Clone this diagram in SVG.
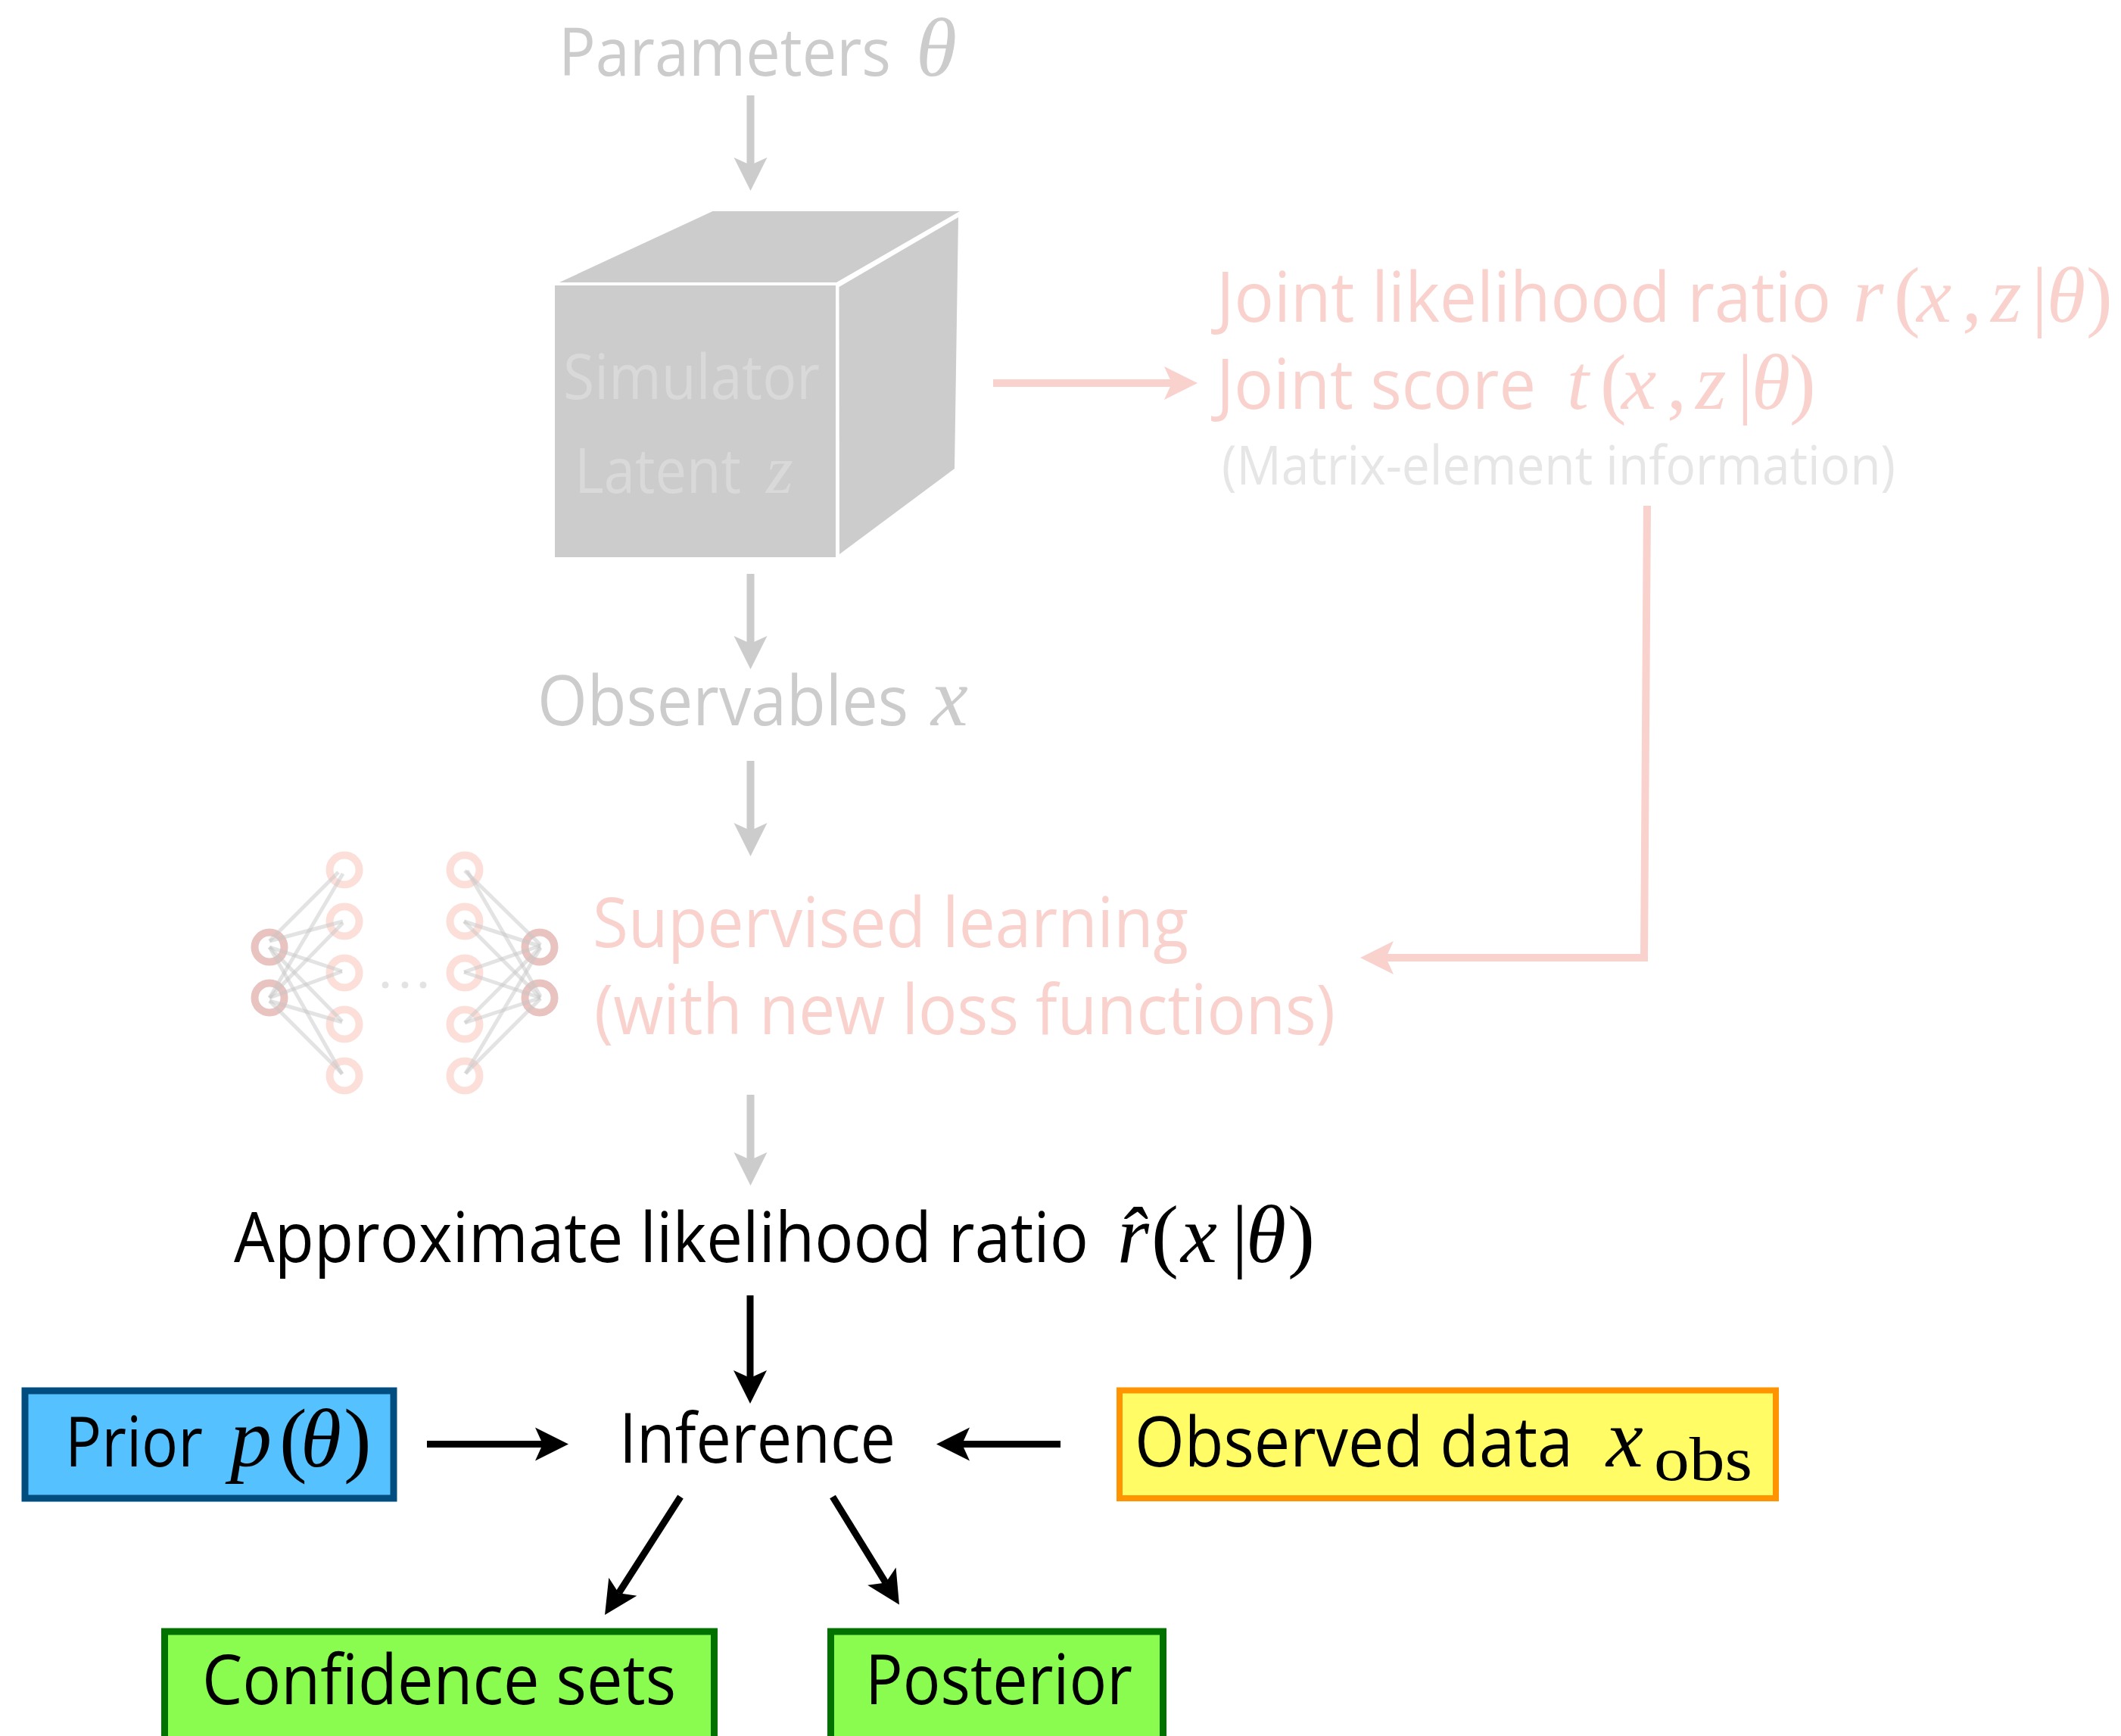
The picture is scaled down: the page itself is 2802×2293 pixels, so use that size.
<svg xmlns="http://www.w3.org/2000/svg" width="2802" height="2293" viewBox="0 0 2802 2293">
  <defs>
    <style>
      .sans { font-family: "Open Sans", "Noto Sans", "Liberation Sans", sans-serif; }
      .math { font-family: "Liberation Serif", "DejaVu Serif", serif; font-style: italic; }
      .up { font-style: normal; }
      .gray { fill: #cccccc; }
      .pale { fill: #d9d9d9; }
      .pink { fill: #f9d2ce; }
      .faint { fill: #e6e6e6; }
      .ink { fill: #000000; }
      .cn-gray { stroke: #cccccc; stroke-width: 10; fill: none; }
      .cn-pink { stroke: #f9d2ce; stroke-width: 10; fill: none; }
      .cn-black { stroke: #000000; stroke-width: 9; fill: none; }
      .ring-outer { fill: none; stroke: #e8c3bf; stroke-width: 10; }
      .ring-inner { fill: none; stroke: #fddfda; stroke-width: 10; }
      .edge { stroke: #c8c8c8; stroke-opacity: 0.5; stroke-width: 5; }
      .cube { fill: #cccccc; }
    </style>
    <marker id="head-gray" markerUnits="userSpaceOnUse" markerWidth="50" markerHeight="50" viewBox="-46 -25 50 50" refX="-34" refY="0" orient="auto">
      <path d="M0,0 L-44,-22 L-34,0 L-44,22 Z" fill="#cccccc"/>
    </marker>
    <marker id="head-pink" markerUnits="userSpaceOnUse" markerWidth="50" markerHeight="50" viewBox="-46 -25 50 50" refX="-34" refY="0" orient="auto">
      <path d="M0,0 L-44,-22 L-34,0 L-44,22 Z" fill="#f9d2ce"/>
    </marker>
    <marker id="head-black" markerUnits="userSpaceOnUse" markerWidth="50" markerHeight="50" viewBox="-46 -25 50 50" refX="-34" refY="0" orient="auto">
      <path d="M0,0 L-44,-22 L-34,0 L-44,22 Z" fill="#000000"/>
    </marker>
  </defs>

  <rect width="2802" height="2293" fill="#ffffff"/>

  <!-- Parameters -->
  <g id="parameters">
    <text class="sans gray" x="738" y="100" font-size="88" textLength="439" lengthAdjust="spacingAndGlyphs">Parameters</text>
    <text class="math gray" x="1210" y="100" font-size="110">θ</text>
  </g>

  <!-- Simulator cube -->
  <g id="simulator">
    <polygon class="cube" points="739,373 941.5,279 1268,279 1105,373"/>
    <polygon class="cube" points="1108.5,379 1266,287 1261,619 1109,732"/>
    <rect class="cube" x="733" y="377" width="371" height="359"/>
    <text class="sans pale" x="744" y="527" font-size="83" textLength="339" lengthAdjust="spacingAndGlyphs">Simulator</text>
    <text class="sans pale" x="759" y="651" font-size="83" textLength="220" lengthAdjust="spacingAndGlyphs">Latent</text>
    <text class="math pale" x="1012" y="651" font-size="92">z</text>
  </g>

  <!-- Joint quantities -->
  <g id="joint">
    <text class="sans pink" x="1607" y="425" font-size="91" textLength="812" lengthAdjust="spacingAndGlyphs">Joint likelihood ratio</text>
    <text class="math pink" y="425" font-size="104"><tspan x="2448">r</tspan><tspan class="up" x="2502">(</tspan><tspan x="2532">x</tspan><tspan class="up" x="2592">,</tspan><tspan x="2630">z</tspan><tspan class="up" x="2684">|</tspan><tspan x="2704">θ</tspan><tspan class="up" x="2756">)</tspan></text>
    <text class="sans pink" x="1607" y="540" font-size="91" textLength="422" lengthAdjust="spacingAndGlyphs">Joint score</text>
    <text class="math pink" y="540" font-size="104"><tspan x="2070">t</tspan><tspan class="up" x="2114">(</tspan><tspan x="2142">x</tspan><tspan class="up" x="2202">,</tspan><tspan x="2240">z</tspan><tspan class="up" x="2295">|</tspan><tspan x="2314">θ</tspan><tspan class="up" x="2364">)</tspan></text>
    <text class="sans faint" x="1614" y="640" font-size="71" textLength="890" lengthAdjust="spacingAndGlyphs">(Matrix-element information)</text>
  </g>

  <!-- Observables -->
  <g id="observables">
    <text class="sans gray" x="710" y="958" font-size="91" textLength="490" lengthAdjust="spacingAndGlyphs">Observables</text>
    <text class="math gray" x="1230" y="958" font-size="110">x</text>
  </g>

  <!-- Neural network and supervised learning -->
  <g id="supervised-learning">
    <g id="network">
      <circle class="ring-outer" cx="356" cy="1251" r="19.5"/>
      <circle class="ring-outer" cx="356" cy="1318" r="19.5"/>
      <circle class="ring-inner" cx="455" cy="1149" r="19.5"/>
      <circle class="ring-inner" cx="455" cy="1217" r="19.5"/>
      <circle class="ring-inner" cx="455" cy="1285" r="19.5"/>
      <circle class="ring-inner" cx="455" cy="1353" r="19.5"/>
      <circle class="ring-inner" cx="455" cy="1421" r="19.5"/>
      <circle class="ring-inner" cx="614" cy="1149" r="19.5"/>
      <circle class="ring-inner" cx="614" cy="1217" r="19.5"/>
      <circle class="ring-inner" cx="614" cy="1285" r="19.5"/>
      <circle class="ring-inner" cx="614" cy="1353" r="19.5"/>
      <circle class="ring-inner" cx="614" cy="1421" r="19.5"/>
      <circle class="ring-outer" cx="713" cy="1251" r="19.5"/>
      <circle class="ring-outer" cx="713" cy="1318" r="19.5"/>
      <g class="edge">
        <line x1="356" y1="1243" x2="447" y2="1152"/>
        <line x1="356" y1="1243" x2="453" y2="1217"/>
        <line x1="356" y1="1251" x2="452" y2="1283"/>
        <line x1="356" y1="1251" x2="452" y2="1349"/>
        <line x1="356" y1="1251" x2="452" y2="1419"/>
        <line x1="356" y1="1318" x2="453" y2="1154"/>
        <line x1="356" y1="1318" x2="453" y2="1219"/>
        <line x1="356" y1="1318" x2="452" y2="1283"/>
        <line x1="356" y1="1322" x2="452" y2="1350"/>
        <line x1="356" y1="1322" x2="452" y2="1418"/>
        <line x1="614" y1="1150" x2="714" y2="1248"/>
        <line x1="617" y1="1150" x2="714" y2="1316"/>
        <line x1="613" y1="1217" x2="714" y2="1250"/>
        <line x1="613" y1="1217" x2="714" y2="1318"/>
        <line x1="613" y1="1284" x2="714" y2="1249"/>
        <line x1="613" y1="1284" x2="714" y2="1318"/>
        <line x1="614" y1="1351" x2="714" y2="1251"/>
        <line x1="614" y1="1351" x2="714" y2="1318"/>
        <line x1="615" y1="1418" x2="714" y2="1252"/>
        <line x1="615" y1="1418" x2="714" y2="1319"/>
      </g>
      <circle cx="509" cy="1301" r="4.5" fill="#e3e3e3"/>
      <circle cx="535" cy="1301" r="4.5" fill="#e3e3e3"/>
      <circle cx="559" cy="1301" r="4.5" fill="#e3e3e3"/>
    </g>
    <text class="sans pink" x="783" y="1251" font-size="91" textLength="787" lengthAdjust="spacingAndGlyphs">Supervised learning</text>
    <text class="sans pink" x="785" y="1366" font-size="91" textLength="979" lengthAdjust="spacingAndGlyphs">(with new loss functions)</text>
  </g>

  <!-- Approximate likelihood ratio -->
  <g id="approx-ratio">
    <text class="sans ink" x="309" y="1667" font-size="91" textLength="1129" lengthAdjust="spacingAndGlyphs">Approximate likelihood ratio</text>
    <text class="math ink" y="1667" font-size="108"><tspan x="1476">r̂</tspan><tspan class="up" x="1521">(</tspan><tspan x="1560">x</tspan><tspan class="up" x="1627">|</tspan><tspan x="1646">θ</tspan><tspan class="up" x="1701">)</tspan></text>
  </g>

  <!-- Prior -->
  <g id="prior">
    <rect x="33" y="1837" width="487" height="142" fill="#56c1ff" stroke="#024d7f" stroke-width="9"/>
    <text class="sans ink" x="86" y="1937" font-size="91" textLength="182" lengthAdjust="spacingAndGlyphs">Prior</text>
    <text class="math ink" y="1937" font-size="110"><tspan x="304">p</tspan><tspan class="up" x="369">(</tspan><tspan x="397">θ</tspan><tspan class="up" x="454">)</tspan></text>
  </g>

  <!-- Inference -->
  <g id="inference">
    <text class="sans ink" x="818" y="1932" font-size="91" textLength="365" lengthAdjust="spacingAndGlyphs">Inference</text>
  </g>

  <!-- Observed data -->
  <g id="observed">
    <rect x="1479" y="1836.5" width="867" height="142.5" fill="#fffc66" stroke="#ff9300" stroke-width="8"/>
    <text class="sans ink" x="1499" y="1937" font-size="91" textLength="579" lengthAdjust="spacingAndGlyphs">Observed data</text>
    <text class="math ink" x="2122" y="1937" font-size="110">x</text>
    <text class="math up ink" x="2185" y="1955" font-size="82" textLength="130" lengthAdjust="spacingAndGlyphs">obs</text>
  </g>

  <!-- Confidence sets -->
  <g id="confidence-sets">
    <rect x="217.5" y="2155" width="726" height="160" fill="#8afb4f" stroke="#017100" stroke-width="9"/>
    <text class="sans ink" x="267" y="2251" font-size="91" textLength="626" lengthAdjust="spacingAndGlyphs">Confidence sets</text>
  </g>

  <!-- Posterior -->
  <g id="posterior">
    <rect x="1097.5" y="2155" width="439" height="160" fill="#8afb4f" stroke="#017100" stroke-width="9"/>
    <text class="sans ink" x="1143" y="2251" font-size="91" textLength="353" lengthAdjust="spacingAndGlyphs">Posterior</text>
  </g>

  <!-- Connectors -->
  <g id="connectors">
    <line class="cn-gray" x1="991.5" y1="126" x2="991.5" y2="218" marker-end="url(#head-gray)"/>
    <line class="cn-gray" x1="991.5" y1="758" x2="991.5" y2="850" marker-end="url(#head-gray)"/>
    <line class="cn-gray" x1="991.5" y1="1005" x2="991.5" y2="1097" marker-end="url(#head-gray)"/>
    <line class="cn-gray" x1="991.5" y1="1446" x2="991.5" y2="1532" marker-end="url(#head-gray)"/>
    <line class="cn-pink" x1="1312" y1="506" x2="1548" y2="506" marker-end="url(#head-pink)"/>
    <path class="cn-pink" d="M2176,668 L2172,1265 L1831,1265" stroke-linejoin="miter" marker-end="url(#head-pink)"/>
    <line class="cn-black" x1="991" y1="1711" x2="991" y2="1820" marker-end="url(#head-black)"/>
    <line class="cn-black" x1="564" y1="1907.5" x2="717" y2="1907.5" marker-end="url(#head-black)"/>
    <line class="cn-black" x1="1401" y1="1907.5" x2="1271" y2="1907.5" marker-end="url(#head-black)"/>
    <line class="cn-black" x1="899" y1="1977" x2="817.4" y2="2104.3" marker-end="url(#head-black)"/>
    <line class="cn-black" x1="1100" y1="1977" x2="1170.1" y2="2090.6" marker-end="url(#head-black)"/>
  </g>
</svg>
